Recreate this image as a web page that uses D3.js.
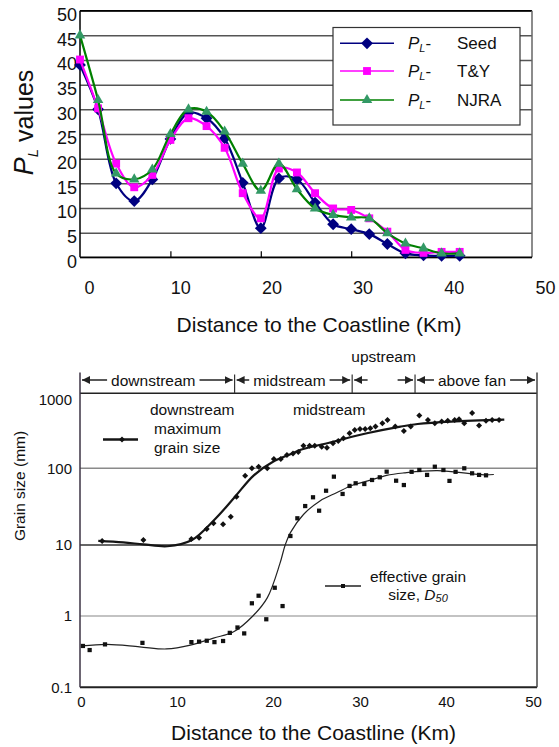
<!DOCTYPE html>
<html><head><meta charset="utf-8">
<script src="https://cdn.jsdelivr.net/npm/d3@7"></script>
<style>
body{margin:0;background:#fff}
svg{display:block}
text{font-family:"Liberation Sans",Arial,Helvetica,sans-serif;fill:#111}
</style>
</head><body>
<svg id="c" width="559" height="747"></svg>
<script>
// ---------------- TOP CHART DATA ----------------
const topDist = [0,2,4,6,8,10,12,14,16,18,20,22,24,26,28,30,32,34,36,38,40,42];
const plSeed  = [39,30,15,11.4,15.8,24,29.3,28.2,24.1,15.1,5.9,16,15.8,11.1,6.7,5.7,4.7,2.7,0.8,0.4,0.3,0.3];
const plTY    = [40.1,30.2,19,14.2,16.7,23.8,28.2,26.6,22.2,13,7.9,18,17.2,13,9.9,9.6,7.9,5.2,1.5,0.9,1.1,1.1];
const plNJRA  = [45,31.9,17,15.8,17.8,25,30,29.5,25.5,19,13.5,19,13.8,9.9,8.6,8.1,7.9,4.9,2.8,1.8,0.8,0.8];
const seriesNames = ["Seed","T&Y","NJRA"];
const topXTicks = [0,10,20,30,40,50];
const topYTicks = [0,5,10,15,20,25,30,35,40,45,50];

// ---------------- BOTTOM CHART DATA ----------------
const maxDist = [2.2,6.5,11.5,12.3,13.1,13.8,14.8,15.6,16.2,17.1,17.8,18.5,19.4,20.1,20.9,21.6,22.3,22.9,23.5,24.2,24.8,25.6,26.2,26.9,27.5,28.1,28.8,29.4,30.0,30.6,31.2,31.8,32.6,33.2,34.1,35.1,35.9,36.9,37.9,38.7,39.5,40.2,41.0,41.5,42.1,43.0,43.8,44.6,45.3,46.1];
const maxSize = [11.3,11.6,12,12.4,16.2,19.2,18.6,23.4,42.7,80,100,105,100,133,133,150,158,165,200,200,200,194,188,215,231,251,293,324,334,334,341,360,398,441,360,315,360,505,441,398,420,430,441,450,398,545,373,430,441,441];
const d50Dist = [0.2,0.9,2.5,6.4,11.5,12.3,13.1,13.9,14.8,15.5,16.3,17.0,17.8,18.5,19.3,20.2,21.1,22.0,22.8,23.7,24.6,25.3,26.1,27.0,28.0,28.8,29.5,30.5,31.4,32.3,33.1,34.2,35.1,36.0,36.9,37.8,38.7,39.7,40.4,41.1,42.1,43.0,43.8,44.6];
const d50Size = [0.38,0.333,0.40,0.42,0.43,0.437,0.45,0.43,0.446,0.58,0.69,0.57,1.51,1.93,0.90,2.5,1.38,13.1,22.3,32.2,41.9,28,51,77.8,46.3,58.9,63.8,62.4,70.4,76.3,90.4,68.9,60.5,90,95,82,105,95,68.5,90,100,86,82,81];
const maxCurveDist = [1.8,4.4,6.5,9,11.5,14,16,18,20,22,23.1,26.9,30.8,34.7,36.7,40.6,46.7];
const maxCurveSize = [11.3,10.8,10.2,9.6,11.5,22,42,81,122,154,175,226,293,360,390,420,445];
const d50CurveDist = [0.1,2.7,6.1,8.9,11.4,13.8,15.9,17.9,19.4,20.8,21.4,22.0,23.5,25.4,27.3,29.2,31.2,33.1,35.1,39.0,44.4,45.5];
const d50CurveSize = [0.38,0.40,0.37,0.345,0.39,0.49,0.6,1.0,1.8,5.5,10,14.5,25,37.6,48,60.5,70,81,87,93,82,83];
const zoneBounds = [0,16,29.1,36.4,50];
const zoneNames = ["downstream","midstream","upstream","above fan"];
const botXTicks = [0,10,20,30,40,50];
const botYTicks = [0.1,1,10,100,1000];

const svg = d3.select("#c");

// =============== TOP CHART ===============
(function(){
  const x = d3.scaleLinear().domain([0,50]).range([80,532]);
  const xLab = d3.scaleLinear().domain([0,50]).range([89,545]);
  const y = d3.scaleLinear().domain([0,50]).range([257.3,10.7]);
  const g = svg.append("g");

  // gridlines + y labels
  const ya = g.append("g").attr("transform",`translate(${x(0)},0)`)
    .call(d3.axisLeft(y).tickValues(topYTicks).tickSize(-(x(50)-x(0))).tickPadding(3));
  ya.select(".domain").remove();
  ya.selectAll(".tick line").attr("stroke","#555").attr("stroke-width",1.5);
  ya.selectAll(".tick text").attr("font-size",18).attr("fill","#111")
    .attr("font-family",'"Liberation Sans",Arial,sans-serif').attr("dy","0.72em").attr("y",-3);

  // frame
  g.append("line").attr("x1",x(0)).attr("x2",x(50)).attr("y1",y(50)).attr("y2",y(50)).attr("stroke","#000").attr("stroke-width",1.5);
  g.append("line").attr("x1",x(50)).attr("x2",x(50)).attr("y1",y(50)).attr("y2",y(0)).attr("stroke","#666").attr("stroke-width",1.5);
  g.append("line").attr("x1",x(0)).attr("x2",x(0)).attr("y1",y(50)).attr("y2",y(0)).attr("stroke","#000").attr("stroke-width",1.5);
  g.append("line").attr("x1",x(0)).attr("x2",x(50)).attr("y1",y(0)).attr("y2",y(0)).attr("stroke","#000").attr("stroke-width",1.5);

  // inner tick marks
  const xt = g.append("g").attr("transform",`translate(0,${y(0)})`)
    .call(d3.axisBottom(x).tickValues([10,20,30,40]).tickSize(-6).tickFormat(""));
  xt.select(".domain").remove();
  xt.selectAll(".tick line").attr("stroke","#000").attr("stroke-width",1.2);

  // x labels
  const xl = g.append("g").attr("transform",`translate(0,${y(0)})`)
    .call(d3.axisBottom(xLab).tickValues(topXTicks).tickSize(0).tickPadding(0));
  xl.select(".domain").remove();
  xl.selectAll(".tick text").attr("font-size",18).attr("fill","#111")
    .attr("font-family",'"Liberation Sans",Arial,sans-serif').attr("dy",null).attr("y",37);

  // axis titles
  g.append("text").attr("x",319).attr("y",331.5).attr("text-anchor","middle").attr("font-size",21)
    .text("Distance to the Coastline (Km)");
  const yt = g.append("text").attr("transform","translate(33,122.5) rotate(-90)").attr("text-anchor","middle").attr("font-size",25);
  yt.append("tspan").attr("font-style","italic").attr("font-size",27).text("P");
  yt.append("tspan").attr("font-style","italic").attr("font-size",15).attr("dy",5).text("L");
  yt.append("tspan").attr("dy",-5).text(" values");

  const styles = [
    {line:"#000080", fill:"#000080", sym:d3.symbolSquare, size:70, rot:45},
    {line:"#FF00FF", fill:"#FF00FF", sym:d3.symbolSquare, size:62, rot:0},
    {line:"#008000", fill:"#339966", sym:d3.symbolTriangle, size:48, rot:0}
  ];
  const data = [plSeed, plTY, plNJRA];
  const line = d3.line().x(d=>x(d[0])).y(d=>y(d[1])).curve(d3.curveCatmullRom.alpha(0.5));
  data.forEach((vals,k)=>{
    const pts = topDist.map((d,i)=>[d, vals[i]]);
    const st = styles[k];
    g.append("path").attr("d",line(pts)).attr("fill","none").attr("stroke",st.line).attr("stroke-width",2.2);
    g.append("g").selectAll("path").data(pts).join("path")
      .attr("d",d3.symbol(st.sym, st.size))
      .attr("transform",d=>`translate(${x(d[0])},${y(d[1])}) rotate(${st.rot})`)
      .attr("fill",st.fill);
  });

  // legend
  const lg = g.append("g");
  lg.append("rect").attr("x",333).attr("y",27.5).attr("width",187).attr("height",97.5)
    .attr("fill","#fff").attr("stroke","#333").attr("stroke-width",1.2);
  const rowY = [43.3,71,100];
  seriesNames.forEach((nm,k)=>{
    const st = styles[k];
    lg.append("line").attr("x1",340).attr("x2",394).attr("y1",rowY[k]).attr("y2",rowY[k]).attr("stroke",st.line).attr("stroke-width",1.6);
    lg.append("path").attr("d",d3.symbol(st.sym, st.size)).attr("transform",`translate(367,${rowY[k]}) rotate(${st.rot})`).attr("fill",st.fill);
    const t = lg.append("text").attr("x",408).attr("y",rowY[k]+6).attr("font-size",17);
    t.append("tspan").attr("font-style","italic").text("P");
    t.append("tspan").attr("font-style","italic").attr("font-size",11).attr("dy",3).text("L");
    t.append("tspan").attr("dy",-3).text("-");
    lg.append("text").attr("x",457).attr("y",rowY[k]+6).attr("font-size",17).text(nm);
  });
})();

// =============== BOTTOM CHART ===============
(function(){
  const x = d3.scaleLinear().domain([0,10,20,30,40,50]).range([81,177,273,360,446,533]);
  const y = d3.scaleLog().domain([0.1,1,10,100,1000]).range([687.3,616,545,468.3,393.3]);
  const L = 80, R = 537, bandTop = 372.5;
  const g = svg.append("g");
  const ink = "#1a1a1a";

  // gridlines
  const gridStyle = {1:["#888",1.1], 10:["#333",1.5], 100:["#8a8a8a",1.4]};
  [1,10,100].forEach(v=>{
    g.append("line").attr("x1",L).attr("x2",R).attr("y1",y(v)).attr("y2",y(v))
      .attr("stroke",gridStyle[v][0]).attr("stroke-width",gridStyle[v][1]);
  });
  // frame
  g.append("line").attr("x1",L).attr("x2",R).attr("y1",y(1000)).attr("y2",y(1000)).attr("stroke","#222").attr("stroke-width",1.6);
  g.append("line").attr("x1",L).attr("x2",R).attr("y1",y(0.1)).attr("y2",y(0.1)).attr("stroke","#222").attr("stroke-width",2);
  g.append("line").attr("x1",L).attr("x2",L).attr("y1",bandTop).attr("y2",y(0.1)).attr("stroke","#3d3345").attr("stroke-width",1.5);
  g.append("line").attr("x1",R).attr("x2",R).attr("y1",bandTop).attr("y2",y(0.1)).attr("stroke","#444").attr("stroke-width",1.5);

  // y labels
  const ya = g.append("g").attr("transform",`translate(${L},0)`)
    .call(d3.axisLeft(y).tickValues(botYTicks).tickSize(0).tickPadding(8).tickFormat(d3.format("~g")));
  ya.select(".domain").remove();
  ya.selectAll(".tick text").attr("font-size",15).attr("fill",ink)
    .attr("font-family",'"Liberation Sans",Arial,sans-serif')
    .attr("dy",d=> d===1000 ? "0.72em" : "0.36em").attr("y",d=> d===1000 ? 0 : -0.5);

  // x labels
  const xa = g.append("g").attr("transform",`translate(0,${y(0.1)})`)
    .call(d3.axisBottom(x).tickValues(botXTicks).tickSize(0).tickPadding(0));
  xa.select(".domain").remove();
  xa.selectAll(".tick text").attr("font-size",15).attr("fill",ink)
    .attr("font-family",'"Liberation Sans",Arial,sans-serif').attr("dy",null).attr("y",20);

  // titles
  g.append("text").attr("x",313.5).attr("y",740).attr("text-anchor","middle").attr("font-size",21)
    .text("Distance to the Coastline (Km)");
  g.append("text").attr("transform","translate(25,486) rotate(-90)").attr("text-anchor","middle").attr("font-size",15.5)
    .text("Grain size (mm)");

  // zones band
  const defs = svg.append("defs");
  defs.append("marker").attr("id","ah").attr("viewBox","0 0 10 10").attr("refX",10).attr("refY",5)
    .attr("markerWidth",8).attr("markerHeight",8).attr("markerUnits","userSpaceOnUse").attr("orient","auto")
    .append("path").attr("d","M0,0L10,5L0,10z").attr("fill","#222");
  const bandY = 380;
  zoneBounds.slice(1,-1).forEach(b=>{
    g.append("line").attr("x1",x(b)).attr("x2",x(b)).attr("y1",bandTop+2).attr("y2",y(1000)).attr("stroke","#333").attr("stroke-width",1.2);
  });
  const edge = i => (i===0? L : i===zoneBounds.length-1 ? R : x(zoneBounds[i]));
  zoneNames.forEach((nm,i)=>{
    const a = edge(i), b = edge(i+1), c = (a+b)/2;
    let t0, t1;
    if(nm==="upstream"){
      g.append("text").attr("x",c).attr("y",362).attr("text-anchor","middle").attr("font-size",15.5).text(nm);
      t0 = c-16; t1 = c+14;
    } else {
      const t = g.append("text").attr("x",c-4).attr("y",bandY+5.5).attr("text-anchor","middle").attr("font-size",15.5).text(nm);
      const w = t.node().getComputedTextLength();
      t0 = c-4-w/2-4; t1 = c-4+w/2+4;
    }
    g.append("line").attr("x1",t0).attr("x2",a+2).attr("y1",bandY).attr("y2",bandY)
      .attr("stroke","#222").attr("stroke-width",1.5).attr("marker-end","url(#ah)");
    g.append("line").attr("x1",t1).attr("x2",b-2).attr("y1",bandY).attr("y2",bandY)
      .attr("stroke","#222").attr("stroke-width",1.5).attr("marker-end","url(#ah)");
  });

  // curves
  const line = d3.line().x(d=>x(d[0])).y(d=>y(d[1])).curve(d3.curveCatmullRom.alpha(0.5));
  g.append("path").attr("d",line(maxCurveDist.map((d,i)=>[d,maxCurveSize[i]])))
    .attr("fill","none").attr("stroke","#151515").attr("stroke-width",2.2);
  g.append("path").attr("d",line(d50CurveDist.map((d,i)=>[d,d50CurveSize[i]])))
    .attr("fill","none").attr("stroke","#222").attr("stroke-width",1.2);

  // points
  g.append("g").selectAll("path").data(maxDist.map((d,i)=>[d,maxSize[i]])).join("path")
    .attr("d",d3.symbol(d3.symbolSquare,18)).attr("transform",d=>`translate(${x(d[0])},${y(d[1])}) rotate(45)`).attr("fill","#111");
  g.append("g").selectAll("path").data(d50Dist.map((d,i)=>[d,d50Size[i]])).join("path")
    .attr("d",d3.symbol(d3.symbolSquare,18)).attr("transform",d=>`translate(${x(d[0])},${y(d[1])})`).attr("fill","#111");

  // annotations / legends
  const ann = g.append("text").attr("font-size",15.5);
  ann.append("tspan").attr("x",150).attr("y",415).text("downstream");
  ann.append("tspan").attr("x",154).attr("y",434).text("maximum");
  ann.append("tspan").attr("x",154).attr("y",452.5).text("grain size");
  g.append("line").attr("x1",103).attr("x2",138).attr("y1",439.5).attr("y2",439.5).attr("stroke","#151515").attr("stroke-width",2.4);
  g.append("path").attr("d",d3.symbol(d3.symbolSquare,18)).attr("transform","translate(122,439.5) rotate(45)").attr("fill","#111");

  g.append("text").attr("x",293).attr("y",415).attr("font-size",15.5).text("midstream");

  const e = g.append("text").attr("font-size",15.5).attr("text-anchor","middle");
  e.append("tspan").attr("x",418).attr("y",582).text("effective grain");
  const e2 = g.append("text").attr("font-size",15.5).attr("text-anchor","middle").attr("x",418).attr("y",600);
  e2.append("tspan").text("size, ");
  e2.append("tspan").attr("font-style","italic").text("D");
  e2.append("tspan").attr("font-style","italic").attr("font-size",11).attr("dy",2).text("50");
  g.append("line").attr("x1",325).attr("x2",361).attr("y1",586).attr("y2",586).attr("stroke","#222").attr("stroke-width",1.3);
  g.append("path").attr("d",d3.symbol(d3.symbolSquare,16)).attr("transform","translate(343,586)").attr("fill","#111");
})();
</script>
</body></html>
